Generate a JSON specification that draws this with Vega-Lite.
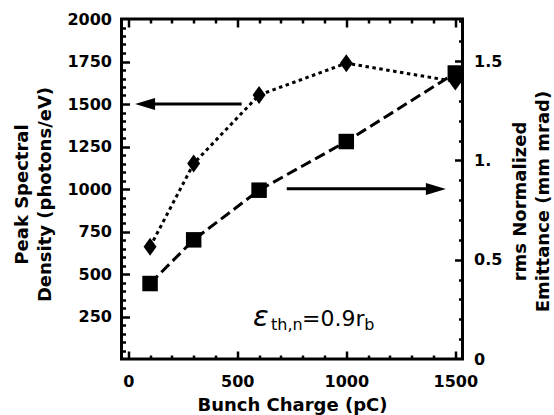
{
  "$schema": "https://vega.github.io/schema/vega-lite/v6.json",
  "width": 341,
  "height": 340,
  "autosize": {"type": "none"},
  "padding": {"left": 121.5, "top": 19, "right": 91.5, "bottom": 56},
  "background": "white",
  "config": {
    "view": {"stroke": "black", "strokeWidth": 3},
    "font": "DejaVu Sans",
    "axis": {
      "labelFont": "DejaVu Sans", "labelFontWeight": "bold", "labelFontSize": 16, "labelColor": "black",
      "titleFont": "DejaVu Sans", "titleFontWeight": "bold", "titleFontSize": 18, "titleColor": "black",
      "tickColor": "black", "tickWidth": 2.5, "domain": false, "grid": false, "labelFlush": false
    }
  },
  "data": {
    "values": [
      {"q": 100, "density": 660, "emit": 0.38},
      {"q": 300, "density": 1150, "emit": 0.6},
      {"q": 600, "density": 1553, "emit": 0.85},
      {"q": 1000, "density": 1740, "emit": 1.095},
      {"q": 1500, "density": 1632, "emit": 1.44}
    ]
  },
  "layer": [
    {
      "mark": {"type": "line", "color": "black", "strokeWidth": 3, "strokeDash": [3.5, 3.5]},
      "encoding": {
        "x": {"field": "q", "type": "quantitative", "scale": {"domain": [-31, 1533], "nice": false, "zero": false},
          "axis": {"orient": "bottom", "values": [0, 500, 1000, 1500], "format": "d", "ticks": false, "tickSize": 0, "labelPadding": 14,
            "title": "Bunch Charge (pC)", "titleBaseline": "alphabetic", "titleY": 51}},
        "y": {"field": "density", "type": "quantitative", "scale": {"domain": [0, 2000], "nice": false, "zero": false},
          "axis": {"orient": "left", "values": [250, 500, 750, 1000, 1250, 1500, 1750, 2000], "format": "d", "ticks": false, "tickSize": 0, "labelPadding": 10,
            "title": ["Peak Spectral", "Density (photons/eV)"], "titleAngle": -90, "titleBaseline": "alphabetic",
            "titleAlign": "center", "titleX": -94.5, "titleY": 175, "titleLineHeight": 23}}
      }
    },
    {
      "mark": {"type": "point", "filled": true, "color": "black", "opacity": 1, "size": 324, "shape": "M0,-1L0.72,0L0,1L-0.72,0Z"},
      "encoding": {
        "x": {"field": "q", "type": "quantitative",
          "axis": {"orient": "top", "offset": -340, "values": [0, 500, 1000, 1500], "labels": false, "tickSize": 8, "title": null}},
        "y": {"field": "density", "type": "quantitative", "scale": {"domain": [0, 2000], "nice": false, "zero": false},
          "axis": {"orient": "right", "offset": -341, "values": [250, 500, 750, 1000, 1250, 1500, 1750], "labels": false, "tickSize": 8, "title": null}}
      }
    },
    {
      "mark": {"type": "line", "color": "black", "strokeWidth": 3, "strokeDash": [11, 5]},
      "encoding": {
        "x": {"field": "q", "type": "quantitative",
          "axis": {"orient": "top", "offset": -340, "values": [100, 200, 300, 400, 600, 700, 800, 900, 1100, 1200, 1300, 1400], "labels": false, "tickSize": 4, "title": null}},
        "y": {"field": "emit", "type": "quantitative", "scale": {"domain": [0, 1.712], "nice": false, "zero": false},
          "axis": {"orient": "right", "values": [0, 0.5, 1, 1.5], "ticks": false, "tickSize": 0, "labelPadding": 11,
            "labelExpr": "datum.value == 0 ? '0' : datum.value == 1 ? '1.' : format(datum.value, '.1f')",
            "title": ["rms Normalized", "Emittance (mm mrad)"], "titleAngle": -90, "titleBaseline": "alphabetic",
            "titleAlign": "center", "titleX": 62.5, "titleY": 182, "titleLineHeight": 23}}
      }
    },
    {
      "mark": {"type": "point", "filled": true, "color": "black", "opacity": 1, "size": 240, "shape": "square"},
      "encoding": {
        "x": {"field": "q", "type": "quantitative",
          "axis": {"orient": "bottom", "offset": -340, "values": [0, 500, 1000, 1500], "labels": false, "tickSize": 8, "title": null}},
        "y": {"field": "emit", "type": "quantitative", "scale": {"domain": [0, 1.712], "nice": false, "zero": false},
          "axis": {"orient": "left", "offset": -341, "values": [0.5, 1, 1.5], "labels": false, "tickSize": 8, "title": null}}
      }
    },
    {
      "data": {"values": [{"x1": 77, "x2": 520, "y": 1500}]},
      "mark": {"type": "rule", "color": "black", "strokeWidth": 3},
      "encoding": {
        "x": {"field": "x1", "type": "quantitative",
          "axis": {"orient": "bottom", "offset": -340, "values": [100, 200, 300, 400, 600, 700, 800, 900, 1100, 1200, 1300, 1400], "labels": false, "tickSize": 4, "title": null}},
        "x2": {"field": "x2"},
        "y": {"field": "y", "type": "quantitative", "scale": {"domain": [0, 2000], "nice": false, "zero": false},
          "axis": {"orient": "right", "offset": -341, "values": [50, 100, 150, 200, 300, 350, 400, 450, 550, 600, 650, 700, 800, 850, 900, 950, 1050, 1100, 1150, 1200, 1300, 1350, 1400, 1450, 1550, 1600, 1650, 1700, 1800, 1850, 1900, 1950], "labels": false, "tickSize": 4, "title": null}}
      }
    },
    {
      "data": {"values": [{"x1": 727, "x2": 1411, "y": 0.857}]},
      "mark": {"type": "rule", "color": "black", "strokeWidth": 3},
      "encoding": {
        "x": {"field": "x1", "type": "quantitative", "axis": null},
        "x2": {"field": "x2"},
        "y": {"field": "y", "type": "quantitative", "scale": {"domain": [0, 1.712], "nice": false, "zero": false},
          "axis": {"orient": "left", "offset": -341, "values": [0.1, 0.2, 0.3, 0.4, 0.6, 0.7, 0.8, 0.9, 1.1, 1.2, 1.3, 1.4, 1.6, 1.7], "labels": false, "tickSize": 4, "title": null}}
      }
    },
    {
      "data": {"values": [{"x": 77, "y": 1500, "dir": "left"}, {"x": 1411, "y": 1000, "dir": "right"}]},
      "mark": {"type": "point", "filled": true, "color": "black", "opacity": 1, "size": 400},
      "encoding": {
        "x": {"field": "x", "type": "quantitative", "axis": null},
        "y": {"field": "y", "type": "quantitative", "scale": {"domain": [0, 2000], "nice": false, "zero": false}, "axis": null},
        "shape": {"field": "dir", "type": "nominal", "legend": null,
          "scale": {"domain": ["left", "right"], "range": ["M-1,0L1,-0.6L1,0.6Z", "M1,0L-1,-0.6L-1,0.6Z"]}}
      }
    },
    {
      "data": {"values": [{}]},
      "mark": {"type": "text", "font": "DejaVu Sans", "fontSize": 29, "fontStyle": "italic", "align": "left", "baseline": "alphabetic", "color": "black"},
      "encoding": {
        "x": {"datum": 572, "type": "quantitative", "axis": null},
        "y": {"datum": 194, "type": "quantitative", "scale": {"domain": [0, 2000], "nice": false, "zero": false}, "axis": null},
        "text": {"value": "ε"}
      }
    },
    {
      "data": {"values": [{}]},
      "mark": {"type": "text", "font": "DejaVu Sans", "fontSize": 16, "align": "left", "baseline": "alphabetic", "color": "black"},
      "encoding": {
        "x": {"datum": 655, "type": "quantitative", "axis": null},
        "y": {"datum": 172, "type": "quantitative", "scale": {"domain": [0, 2000], "nice": false, "zero": false}, "axis": null},
        "text": {"value": "th,n"}
      }
    },
    {
      "data": {"values": [{}]},
      "mark": {"type": "text", "font": "DejaVu Sans", "fontSize": 22, "align": "left", "baseline": "alphabetic", "color": "black"},
      "encoding": {
        "x": {"datum": 797, "type": "quantitative", "axis": null},
        "y": {"datum": 194, "type": "quantitative", "scale": {"domain": [0, 2000], "nice": false, "zero": false}, "axis": null},
        "text": {"value": "=0.9r"}
      }
    },
    {
      "data": {"values": [{}]},
      "mark": {"type": "text", "font": "DejaVu Sans", "fontSize": 16, "align": "left", "baseline": "alphabetic", "color": "black"},
      "encoding": {
        "x": {"datum": 1082, "type": "quantitative", "axis": null},
        "y": {"datum": 172, "type": "quantitative", "scale": {"domain": [0, 2000], "nice": false, "zero": false}, "axis": null},
        "text": {"value": "b"}
      }
    }
  ],
  "resolve": {"scale": {"y": "independent"}, "axis": {"x": "independent", "y": "independent"}}
}
